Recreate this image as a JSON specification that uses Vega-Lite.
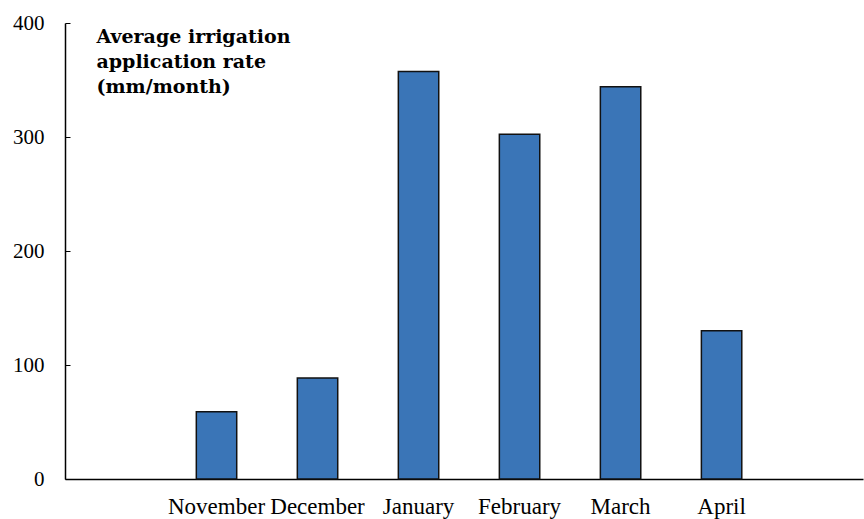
{
  "$schema": "https://vega.github.io/schema/vega-lite/v6.json",
  "width": 798,
  "height": 456,
  "padding": 12,
  "data": {
    "values": [
      {"month": "November", "rate": 59},
      {"month": "December", "rate": 88.5},
      {"month": "January", "rate": 357.5},
      {"month": "February", "rate": 302.5},
      {"month": "March", "rate": 344},
      {"month": "April", "rate": 130}
    ]
  },
  "layer": [
    {
      "mark": {"type": "bar", "color": "#3a75b7", "stroke": "#111111", "strokeWidth": 1.5},
      "encoding": {
        "x": {
          "field": "month",
          "type": "nominal",
          "sort": null,
          "scale": {"domain": [" ", "November", "December", "January", "February", "March", "April"], "paddingInner": 0.6, "paddingOuter": 0.75, "align": 0.2},
          "axis": {
            "title": null,
            "labelAngle": 0,
            "ticks": false,
            "domainColor": "black",
            "domainWidth": 1.5,
            "labelFont": "Liberation Serif",
            "labelFontSize": 23,
            "labelColor": "black",
            "labelPadding": 16
          }
        },
        "y": {
          "field": "rate",
          "type": "quantitative",
          "scale": {"domain": [0, 400]},
          "axis": {
            "title": null,
            "values": [0, 100, 200, 300, 400],
            "grid": false,
            "domainColor": "black",
            "domainWidth": 1.5,
            "tickSize": -5,
            "tickColor": "black",
            "labelFont": "Liberation Serif",
            "labelFontSize": 21,
            "labelColor": "black",
            "labelPadding": 26
          }
        }
      }
    },
    {
      "data": {"values": [{}]},
      "mark": {
        "type": "text",
        "text": ["Average irrigation", "application rate", "(mm/month)"],
        "align": "left",
        "baseline": "top",
        "font": "DejaVu Serif",
        "fontSize": 19,
        "fontWeight": "bold",
        "lineHeight": 25,
        "color": "black",
        "dx": -19,
        "dy": 5
      },
      "encoding": {
        "x": {"datum": " ", "type": "nominal"},
        "y": {"datum": 400, "type": "quantitative"}
      }
    }
  ],
  "config": {"view": {"stroke": null}}
}
